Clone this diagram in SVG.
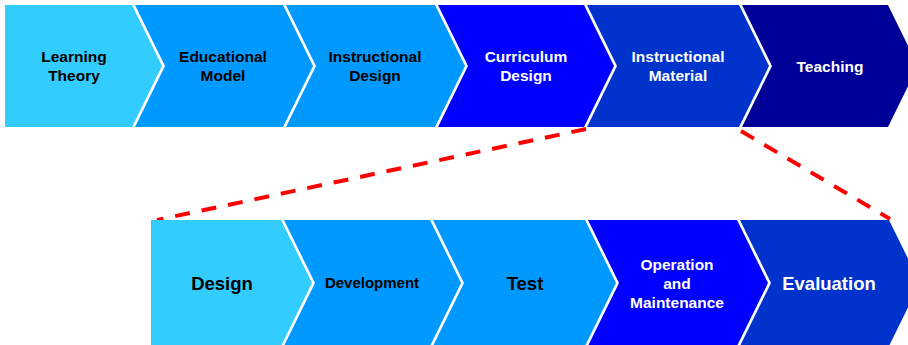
<svg xmlns="http://www.w3.org/2000/svg" width="908" height="345" viewBox="0 0 908 345">
<style>
text{font-family:"Liberation Sans",Arial,sans-serif;font-weight:bold;text-anchor:middle}
.t{font-size:15.5px}
.b{font-size:18.5px}
.s{font-size:15px}
.k{fill:#000}
.w{fill:#fff}
.c1{fill:#33CCFF}.c2{fill:#0099FF}.c3{fill:#0000FF}.c4{fill:#0033CC}.c5{fill:#000099}
.dash{fill:none;stroke:#FF0000;stroke-width:4;stroke-dasharray:15 12}
</style>
<rect width="908" height="345" fill="#fff"/>
<g id="top-learning-theory">
<polygon class="c1" points="5,5 132,5 162,66 132,127 5,127"/>
<text class="t k" x="74" y="62">Learning</text>
<text class="t k" x="74" y="81">Theory</text>
</g>
<g id="top-educational-model">
<polygon class="c2" points="135,5 283,5 313,66 283,127 135,127 165,66"/>
<text class="t k" x="223" y="62">Educational</text>
<text class="t k" x="223" y="81">Model</text>
</g>
<g id="top-instructional-design">
<polygon class="c2" points="286,5 435,5 465,66 435,127 286,127 316,66"/>
<text class="t k" x="375" y="62">Instructional</text>
<text class="t k" x="375" y="81">Design</text>
</g>
<g id="top-curriculum-design">
<polygon class="c3" points="438,5 584,5 614,66 584,127 438,127 468,66"/>
<text class="t w" x="526" y="62">Curriculum</text>
<text class="t w" x="526" y="81">Design</text>
</g>
<g id="top-instructional-material">
<polygon class="c4" points="587,5 739,5 769,66 739,127 587,127 617,66"/>
<text class="t w" x="678" y="62">Instructional</text>
<text class="t w" x="678" y="81">Material</text>
</g>
<g id="top-teaching">
<polygon class="c5" points="742,5 888,5 918,66 888,127 742,127 772,66"/>
<text class="t w" x="830" y="72">Teaching</text>
</g>
<g id="connectors">
<line class="dash" x1="586" y1="129" x2="157" y2="220"/>
<line class="dash" x1="741" y1="131" x2="890" y2="219"/>
</g>
<g id="bottom-design">
<polygon class="c1" points="151,220 281,220 312,283 281,346 151,346"/>
<text class="b k" x="222" y="290">Design</text>
</g>
<g id="bottom-development">
<polygon class="c2" points="284,220 430,220 461,283 430,346 284,346 315,283"/>
<text class="s k" x="372" y="288">Development</text>
</g>
<g id="bottom-test">
<polygon class="c2" points="433,220 585,220 616,283 585,346 433,346 464,283"/>
<text class="b k" x="525" y="290">Test</text>
</g>
<g id="bottom-operation-maintenance">
<polygon class="c3" points="588,220 737,220 768,283 737,346 588,346 619,283"/>
<text class="t w" x="677" y="269.5">Operation</text>
<text class="t w" x="677" y="288.5">and</text>
<text class="t w" x="677" y="307.5">Maintenance</text>
</g>
<g id="bottom-evaluation">
<polygon class="c4" points="740,220 889,220 920,283 889,346 740,346 771,283"/>
<text class="b w" x="829" y="290">Evaluation</text>
</g>
</svg>
